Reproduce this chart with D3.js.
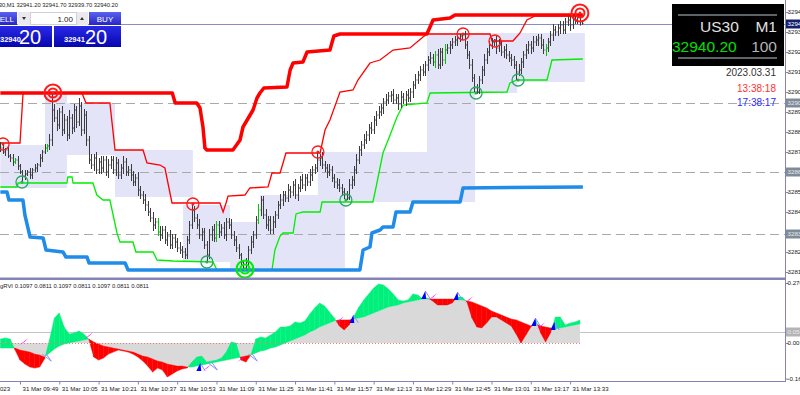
<!DOCTYPE html>
<html>
<head>
<meta charset="utf-8">
<script src="https://cdn.jsdelivr.net/npm/d3@7"></script>
<style>
html,body{margin:0;padding:0;background:#fff;overflow:hidden}
svg{display:block;font-family:"Liberation Sans",Arial,sans-serif}
</style>
</head>
<body>
<div id="chart"></div>
<script>
var W = 800, H = 395;

// US30 M1, first visible bar at 09:41
var startTime = new Date(2023, 2, 31, 9, 41);
var open0 = 32879;
var closes = [32878,32876,32877,32874, 32873,32871,32872,32869,32866,
  32864,32865,32866,32864.5,32867,32868, 32869.5,32873,32876,32878,32879,
  32882,32897, 32893,32889.5,32896,32887,32892,32884.5,
  32893,32888,32897,32891,32899,32887,32894.5, 32882,32872,
  32869.5,32873,32867,32871,32868,32872,32866,32869.5,32872,32867,32870.5,32864.5,32868,32871,32866,32867,
  32864.5,32861,32863,32857,32854.5,32852, 32849.5,32846,32843,32839.5,32841,32836,32834.5,
  32837,32832,32834,32829.5,32833,32831,32828,32827,32826,
  32824.5,32832,32839.5,32847,32843, 32839.5,32834.5,32836,32829.5,32824.5,
  32834.5,32837,32833,32839.5,32836,32838,32834.5,32841,32839.5,32834.5,32832,
  32828,32824.5,32821,32818, 32821,32827,32831,32834.5,32842,32847,32852,
  32844.5,32839.5,32842,32837,32841,32844.5,
  32849.5,32852,32854.5,32853,32857,32856,32859.5,32854.5,32858,32862,
  32859.5,32863,32861,32864.5,32867,32868, 32872,32873,
  32869.5,32868,32866,32867,32863,32861,32859.5,32858, 32856,32854.5,32853,
  32859.5,32862,32867,32872,32877,32879.5,32882,32884.5,32888,
  32887,32892,32894.5,32896,32898,32901,32902,32904,
  32904.5,32902,32903,32900,32903.5,32902,32904.5,32903,
  32906,32909.5,32912,32914.5,32917,32916,32919.5,32922,
  32923,32921,32924.5,32919.5,32926,32922,32927,32928,
  32929.5,32931,32932,32933,32934,32934.5, 32929.5,32924.5,32919.5,32913,32908,32906,
  32912,32917,32922,32926,32929.5,32931,32932,
  32928,32929.5,32926,32927,32924.5,32923,32922,32919.5,32916,
  32917,32921,32924.5,32927,32929.5,32928,32931,32932,32933,
  32929.5,32927,32928,32931,32934.5,32937,32936,
  32938,32939.5,32937,32941,32942,32939.5,32943,32942,32944,32941.2,32940.2];
// wick above / below the bar body, points
var wickUp = [2,2,1,2,1,2,1,2,1,1, 2,1,2,1,2,1,2,1,2,1, 3,8.5,3,4,2,3,3,2,4,2,
  3,2,4,2,3,2,2,3,2,3, 2,3,2,2,3,2,2,3,2,2, 3,2,2,3,2,2,3,2,2,3,
  2,2,3,2,2,3,2,2,2,3, 2,2,2,3,2,2,2,2,3,2, 2,3,2,2,2,3,2,3,2,2,
  2,3,2,2,3,2,2,2,1,1, 2,2,3,2,2,3,2,2,3,2, 2,3,2,2,3,2,2,3,2,2,
  3,2,2,3,2,2,3,2,2,4, 2,3,2,2,3,2,2,2,3,2, 2,2,3,2,2,3,2,2,3,2,
  2,3,2,2,3,2,2,3,2,2, 3,2,2,3,2,2,3,2,2,3, 2,2,3,2,2,3,2,2,3,2,
  2,3,2,2,2,2,1,1,0.5,2, 2,2,3,2,2,2,2,3,2,2, 2,0.5,2,3,2,2,3,2,2,2,
  2,3,2,2,3,2,2,3,2,2, 2,3,2,2,2,3,2,2,2,2, 2,2,2,2,1,1,1.5,0.5];
var wickDown = [2,1,2,1,2,2,1,2,1,3, 2,1,2,2,1,2,1,2,1,2, 2,3,2,3,2,3,2,3,2,3,
  2,3,2,3,2,3,2,2,3,2, 2,3,2,2,3,2,2,3,2,2, 3,2,2,3,2,2,3,2,2,3,
  2,2,3,2,2,3,2,2,3,2, 2,3,2,2,3,2,2,2,2,2, 2,2,3,2,3.5,2,3,2,2,3,
  2,2,3,2,2,3,2,2,2,1, 1,2,2,3,2,2,3,2,2,3, 2,2,3,2,2,3,2,2,3,2,
  2,3,2,2,3,2,2,3,2,2, 3,2,2,3,2,2,3,2,2,2, 2,1,1,2,3,2,2,3,2,2,
  3,2,2,3,2,2,3,2,2,3, 2,2,3,2,2,3,2,2,3,2, 2,3,2,2,3,2,2,3,2,2,
  3,2,2,3,2,2,3,2,2,2, 2,2,2,2,1,1,2,3,2,2, 2,2,3,2,2,3,2,2,3,2,
  4,2,2,3,2,2,3,2,2,3, 2,2,3,2,2,3,2,2,3,2, 2,2,3,2,2,2,2,0.5];
var greenBars = [6,19,64,88,105,177,181,222];

// channel lines: [bar, price]
var slowHigh = [[0,32905.5],[70,32905.5],[71.2,32900.5],[80,32900.5],[81.3,32898],[82.5,32888.5],[83.3,32878],
  [84.1,32877],[94.7,32877],[97.6,32882],[98.8,32888.5],[102.9,32897],[104.5,32903],[105.7,32905.5],[107.3,32908],
  [116.7,32908.5],[118,32917],[119.2,32920.5],[123.2,32921],[124.9,32926],[134.2,32927],[135.8,32934],[138.3,32935],
  [173.7,32935],[176.2,32942],[183.1,32943],[185.1,32944.5],[237.2,32944.5]];
var fastHigh = [[0,32880.5],[8,32880.5],[9.2,32904.5],[9.6,32905.5],[33.2,32905.5],[34.9,32900.5],[44.6,32900.5],
  [46.7,32877],[58.1,32877],[59.7,32870.5],[65,32869.5],[67,32868],[69.9,32850.5],[89.4,32850.5],[90.7,32846],
  [91.9,32850.5],[92.7,32854],[99.6,32854.5],[101.6,32858],[109,32858.5],[110.6,32865.5],[113.9,32865.5],
  [116.3,32875.5],[130.2,32875.5],[132.2,32887],[134.2,32892],[138.3,32906],[143.6,32907],[145.6,32912],
  [150.5,32920.5],[154.6,32922],[159.9,32927],[166.8,32928],[172.1,32933.5],[173.7,32935],[199.4,32935],
  [200.2,32931.5],[208.7,32931.5],[211.6,32935.5],[214.4,32942],[217.7,32944],[237.2,32944]];
var fastLow = [[0,32858.5],[6.8,32858.5],[7.2,32860.5],[27.1,32860.5],[27.5,32863.5],[29.2,32863.5],[29.6,32860.5],
  [37.7,32860.5],[39.3,32854.5],[41.8,32852],[44.6,32852],[47.5,32835.5],[48.7,32831],[54,32831],[55.2,32826],
  [62.2,32826],[63.8,32822],[70.3,32821.5],[86.6,32821],[88.2,32817],[110.6,32817],[111.8,32827],[113.9,32834],
  [115.1,32835.5],[119.2,32835.5],[120.4,32845],[123.2,32846],[130.2,32846],[131,32851],[151.7,32851],
  [153,32858.5],[155.8,32875.5],[158.7,32884.5],[161.5,32893.5],[164,32899.5],[173.7,32900.5],[175,32905.5],
  [206.3,32906],[207.5,32910.5],[210.4,32912],[222.6,32912],[224.6,32922],[237.2,32922.5]];
var slowLow = [[0,32856],[2.7,32856],[3.5,32852],[9.2,32852],[10,32844.5],[12.1,32833.5],[17.4,32833],[18.6,32827],
  [25.5,32826],[26.7,32823.5],[35.3,32823.5],[36.1,32820.5],[50.8,32820.5],[52,32817],[146.4,32817],[147.7,32827],
  [150.5,32828.5],[151.3,32835.5],[154.6,32837],[155.8,32838.5],[159.9,32838.5],[161.1,32846],[166.8,32846],
  [168,32851],[187.2,32851],[188.4,32858],[237.2,32858.5]];

// shaded zones: [fromBar, toBar, top, bottom]
var zones = [[0,18.2,32879.5,32858],[18.2,27.1,32905.5,32858],[27.1,46.7,32900.5,32874.5],
  [46.7,78.4,32877,32853.5],[74.4,93.5,32849.5,32821],[93.5,105.7,32841,32817],[105.7,140.3,32854.5,32818],
  [129.3,173.7,32876,32851],[173.7,193.3,32927,32851],[173.7,210.4,32935.5,32905.5],[210.4,238,32935.5,32911]];

var levels = [32900.5, 32866, 32835];
var lastPrice = 32940.2;

// swing marks: [bar, price]
var bigHighMarks = [[21.4,32905.5],[236,32945.5]];
var highMarks = [[1.1,32880],[78.4,32850],[129.3,32876],[188.4,32935],[201.4,32931.5]];
var lowMarks = [[8.8,32861],[84.1,32821],[140.7,32852],[193.7,32905.5],[210.8,32912]];
var bigLowMarks = [[99.6,32817.5]];

// gRVI, one value every 2 bars
var rviMain = [0.018,0.023,0.018,-0.032,-0.077,-0.095,-0.108,-0.113,-0.108,-0.072,
  0.014,0.113,0.135,0.072,0.041,0.045,0.054,0.041,0.018,-0.063,
  -0.077,-0.068,-0.050,-0.041,-0.032,-0.036,-0.041,-0.050,-0.063,-0.081,
  -0.104,-0.131,-0.113,-0.122,-0.153,-0.140,-0.126,-0.117,-0.113,-0.086,
  -0.063,-0.059,-0.086,-0.081,-0.077,-0.068,-0.041,0.005,0.000,-0.077,
  -0.086,-0.054,0.018,0.027,0.023,0.036,0.050,0.072,0.072,0.077,
  0.095,0.090,0.099,0.131,0.158,0.180,0.167,0.140,0.113,0.077,
  0.059,0.081,0.122,0.162,0.194,0.221,0.248,0.266,0.261,0.243,
  0.221,0.194,0.189,0.194,0.221,0.216,0.198,0.203,0.189,0.171,
  0.171,0.171,0.180,0.207,0.207,0.185,0.113,0.072,0.068,0.090,
  0.117,0.117,0.104,0.090,0.077,0.041,0.000,0.036,0.072,0.104,
  0.045,0.005,0.045,0.117,0.117,0.081,0.090,0.095,0.104];
var rviSignal = [-0.023,-0.023,-0.023,-0.023,-0.032,-0.036,-0.041,-0.050,-0.054,-0.063,
  -0.045,-0.027,-0.014,-0.005,0.000,0.005,0.009,0.014,0.018,0.005,
  -0.005,-0.014,-0.018,-0.023,-0.027,-0.032,-0.036,-0.041,-0.050,-0.059,
  -0.063,-0.072,-0.081,-0.086,-0.095,-0.099,-0.104,-0.104,-0.108,-0.108,
  -0.104,-0.099,-0.095,-0.090,-0.086,-0.081,-0.077,-0.072,-0.068,-0.063,
  -0.059,-0.054,-0.045,-0.036,-0.032,-0.023,-0.018,-0.009,0.000,0.009,
  0.018,0.027,0.036,0.050,0.059,0.072,0.081,0.090,0.099,0.104,
  0.104,0.104,0.108,0.113,0.117,0.126,0.135,0.144,0.153,0.162,
  0.167,0.171,0.180,0.185,0.189,0.194,0.198,0.198,0.198,0.198,
  0.198,0.198,0.198,0.194,0.194,0.189,0.185,0.176,0.167,0.158,
  0.144,0.135,0.126,0.117,0.108,0.104,0.095,0.086,0.077,0.086,
  0.077,0.072,0.068,0.063,0.068,0.072,0.077,0.081,0.086];
// cross arrows: [bar, value, kind]
var rviMarks = [[9.4,0.009,"m"],[19.1,-0.068,"o"],[35.8,0.036,"m"],[80.6,-0.113,"b"],[83.9,-0.108,"m"],
  [86.7,-0.108,"o"],[98.1,-0.068,"m"],[103,-0.068,"o"],[138,0.108,"m"],[142.9,0.104,"b"],[172.2,0.212,"b"],
  [175.9,0.212,"m"],[185.3,0.207,"b"],[190.6,0.198,"m"],[217,0.090,"b"],[219.9,0.081,"m"],[224.8,0.072,"b"]];
var rviLevel = 0.05;

var priceTicks = [32946,32936,32926,32916,32906,32896,32886,32876,32866,32856,32846,32836,32826,32816];
var rviTicks = [0.27, 0, -0.16];
var rviTickLabels = ["0.270", "0.00", "-0.16"];
var timeTicks = ["09:30","09:49","10:05","10:21","10:37","10:53","11:09","11:25","11:41","11:57",
  "12:13","12:29","12:45","13:01","13:17","13:33"];

function barTime(i) { return new Date(+startTime + i * 60000); }
function hm(s) { var p = s.split(":"); return new Date(2023, 2, 31, +p[0], +p[1]); }

var svg = d3.select("#chart").append("svg").attr("width", W).attr("height", H);
var defs = svg.append("defs");
defs.append("clipPath").attr("id", "clipMain").append("rect")
  .attr("x", 0).attr("y", 0).attr("width", 785).attr("height", 278);
defs.append("clipPath").attr("id", "clipInd").append("rect")
  .attr("x", 0).attr("y", 281).attr("width", 785).attr("height", 101);

var x = d3.scaleTime().domain([barTime(0), barTime(237)]).range([0.35, 582.4]);
var y = d3.scaleLinear().domain([32952, 32813]).range([0, 278]);
var yi = d3.scaleLinear().domain([0.279, -0.171]).range([281, 381]);

var main = svg.append("g").attr("clip-path", "url(#clipMain)");

// zones
main.selectAll("rect.zone").data(zones).enter().append("rect")
  .attr("x", function(d) { return x(barTime(d[0])); })
  .attr("width", function(d) { return x(barTime(d[1])) - x(barTime(d[0])); })
  .attr("y", function(d) { return y(d[2]); })
  .attr("height", function(d) { return y(d[3]) - y(d[2]); })
  .attr("fill", "#e3e4f7");

// levels
main.selectAll("line.lvl").data(levels).enter().append("line")
  .attr("x1", 0).attr("x2", 785)
  .attr("y1", function(d) { return Math.round(y(d)) + 0.5; })
  .attr("y2", function(d) { return Math.round(y(d)) + 0.5; })
  .attr("stroke", "#a9a9a9").attr("stroke-dasharray", "9,5");

main.append("line").attr("x1", 0).attr("x2", 785)
  .attr("y1", Math.round(y(lastPrice)) + 0.5).attr("y2", Math.round(y(lastPrice)) + 0.5)
  .attr("stroke", "#8c8cc4");

var chan = d3.line()
  .x(function(d) { return x(barTime(d[0])); })
  .y(function(d) { return y(d[1]); });

main.append("path").attr("d", chan(fastHigh)).attr("fill", "none").attr("stroke", "#ff0000").attr("stroke-width", 1.3);
main.append("path").attr("d", chan(fastLow)).attr("fill", "none").attr("stroke", "#00ee00").attr("stroke-width", 1.3);

// bars
var bars = main.append("g");
closes.forEach(function(c, i) {
  var o = i == 0 ? open0 : closes[i - 1];
  var hi = Math.max(o, c) + wickUp[i], lo = Math.min(o, c) - wickDown[i];
  var bx = Math.round(x(barTime(i))) + 0.5;
  var col = greenBars.indexOf(i) >= 0 ? "#00c800" : "#3c3c3c";
  bars.append("line").attr("x1", bx).attr("x2", bx).attr("y1", y(hi)).attr("y2", y(lo))
    .attr("stroke", col);
  bars.append("line").attr("x1", bx - 1).attr("x2", bx).attr("y1", y(o)).attr("y2", y(o))
    .attr("stroke", col);
  bars.append("line").attr("x1", bx).attr("x2", bx + 1).attr("y1", y(c)).attr("y2", y(c))
    .attr("stroke", col);
});

main.append("path").attr("d", chan(slowHigh)).attr("fill", "none").attr("stroke", "#ff0000")
  .attr("stroke-width", 3.5).attr("stroke-linejoin", "round");
main.append("path").attr("d", chan(slowLow)).attr("fill", "none").attr("stroke", "#1e8ce8")
  .attr("stroke-width", 3.5).attr("stroke-linejoin", "round");

// swing marks
function rings(data, col, radii, sw) {
  data.forEach(function(d) {
    var cx = x(barTime(d[0])), cy = y(d[1]);
    radii.forEach(function(r) {
      main.append("circle").attr("cx", cx).attr("cy", cy).attr("r", r)
        .attr("fill", "none").attr("stroke", col).attr("stroke-width", sw);
    });
    main.append("circle").attr("cx", cx).attr("cy", cy).attr("r", 1.5).attr("fill", col);
  });
}
rings(highMarks, "#ff1a1a", [6], 1.3);
rings(lowMarks, "#2fa56a", [6], 1.3);
rings(bigHighMarks, "#ff1a1a", [8.5, 4.5], 2);
rings(bigLowMarks, "#00ee00", [8.5, 4.5], 2.2);

// ---- gRVI panel
var ind = svg.append("g").attr("clip-path", "url(#clipInd)");
var ix = function(k) { return x(barTime(k * 2)); };

ind.append("line").attr("x1", 0).attr("x2", 785)
  .attr("y1", Math.round(yi(rviLevel)) + 0.5).attr("y2", Math.round(yi(rviLevel)) + 0.5)
  .attr("stroke", "#c4c4c4");

ind.append("path")
  .attr("d", d3.area().x(function(d, k) { return ix(k); }).y0(yi(0)).y1(function(d) { return yi(d); })(rviSignal))
  .attr("fill", "#d9d9d9");

for (var k = 0; k < rviMain.length - 1; k++) {
  var d0 = rviMain[k] - rviSignal[k], d1 = rviMain[k + 1] - rviSignal[k + 1];
  var pieces = [];
  if (d0 * d1 < 0) {
    var t = d0 / (d0 - d1);
    var mm = rviMain[k] + t * (rviMain[k + 1] - rviMain[k]);
    pieces.push([[k, rviMain[k], rviSignal[k]], [k + t, mm, mm], d0]);
    pieces.push([[k + t, mm, mm], [k + 1, rviMain[k + 1], rviSignal[k + 1]], d1]);
  } else {
    pieces.push([[k, rviMain[k], rviSignal[k]], [k + 1, rviMain[k + 1], rviSignal[k + 1]], d0 + d1]);
  }
  pieces.forEach(function(p) {
    var a = p[0], b = p[1];
    ind.append("path")
      .attr("d", "M" + ix(a[0]) + "," + yi(a[1]) + "L" + ix(b[0]) + "," + yi(b[1]) +
        "L" + ix(b[0]) + "," + yi(b[2]) + "L" + ix(a[0]) + "," + yi(a[2]) + "Z")
      .attr("fill", p[2] >= 0 ? "#00f07c" : "#ff0000")
      .attr("stroke", p[2] >= 0 ? "#00f07c" : "#ff0000").attr("stroke-width", 0.4);
  });
}

ind.append("line").attr("x1", 0).attr("x2", ix(rviMain.length - 1))
  .attr("y1", Math.round(yi(0)) + 0.5).attr("y2", Math.round(yi(0)) + 0.5)
  .attr("stroke", "#f07a7a").attr("stroke-dasharray", "1,2");

rviMarks.forEach(function(m) {
  var g = ind.append("g").attr("transform", "translate(" + x(barTime(m[0])) + "," + yi(m[1]) + ")");
  if (m[2] == "b") {
    g.append("path").attr("d", "M2,-5L7,3").attr("stroke", "#8f8fff").attr("fill", "none");
    g.append("path").attr("d", "M-2,3L2,-5L3,3Z").attr("fill", "#0000ff");
  } else if (m[2] == "m") {
    g.append("path").attr("d", "M-4,4L5,-3L1,1Z").attr("fill", "#ff00ff");
  } else {
    g.append("path").attr("d", "M-5,-4L4,3M-1,-4L4,3").attr("stroke", "#8f8fff").attr("fill", "none");
  }
});

ind.append("text").attr("x", 0).attr("y", 288).attr("font-size", 5.9).attr("fill", "#222")
  .text("gRVI 0.1097 0.0811 0.1097 0.0811 0.1097 0.0811 0.0811");

// ---- frames and axes
var frame = "#8484b6";
var axisFont = "Liberation Sans, Arial, sans-serif";
svg.append("rect").attr("x", 0).attr("y", 277.5).attr("width", 786).attr("height", 2.5).attr("fill", frame);
svg.append("line").attr("x1", 0).attr("x2", 786).attr("y1", 381.5).attr("y2", 381.5).attr("stroke", frame);
svg.append("line").attr("x1", 785.5).attr("x2", 785.5).attr("y1", 0).attr("y2", 382).attr("stroke", frame);

// tick labels hidden under a price tag are dropped, as the terminal does
var tagged = levels.concat([lastPrice]);
var pAxis = svg.append("g").attr("transform", "translate(785.5,0)")
  .call(d3.axisRight(y).tickValues(priceTicks).tickSize(3).tickFormat(d3.format(".1f")));
pAxis.select(".domain").remove();
pAxis.selectAll("line").attr("stroke", frame);
pAxis.selectAll("text").attr("x", 2).attr("font-size", 6.2).attr("fill", "#222")
  .attr("font-family", axisFont)
  .style("display", function(d) {
    return tagged.some(function(l) { return Math.abs(y(l) - y(d)) < 8; }) ? "none" : null;
  });

var iAxis = svg.append("g").attr("transform", "translate(785.5,0)")
  .call(d3.axisRight(yi).tickValues(rviTicks).tickSize(3)
    .tickFormat(function(d, i) { return rviTickLabels[i]; }));
iAxis.select(".domain").remove();
iAxis.selectAll("line").attr("stroke", frame);
iAxis.selectAll("text").attr("x", 2).attr("font-size", 6.2).attr("fill", "#222")
  .attr("font-family", axisFont);

var tAxis = svg.append("g").attr("transform", "translate(0,381.5)")
  .call(d3.axisBottom(x).tickValues(timeTicks.map(hm)).tickSize(3)
    .tickFormat(function(d, i) { return i == 0 ? d3.timeFormat("%d %b %Y")(d) : d3.timeFormat("%d %b %H:%M")(d); }));
tAxis.select(".domain").remove();
tAxis.selectAll("line").attr("stroke", frame);
tAxis.selectAll("text").attr("text-anchor", "start").attr("x", 2).attr("y", 5).attr("dy", "0.71em")
  .attr("font-size", 6.1).attr("fill", "#222").attr("font-family", axisFont);

// axis price tags
function tag(v, scale, bg, fg, label) {
  var ty = Math.round(scale(v));
  svg.append("rect").attr("x", 786).attr("y", ty - 4.5).attr("width", 14).attr("height", 9).attr("fill", bg);
  svg.append("text").attr("x", 787.5).attr("y", ty + 2.3).attr("font-size", 6.2).attr("fill", fg)
    .attr("font-family", axisFont).text(label);
}
levels.forEach(function(l) { tag(l, y, "#7f8c98", "#e6e9ee", d3.format(".1f")(l)); });
tag(lastPrice, y, "#14206e", "#ffffff", d3.format(".2f")(lastPrice));
tag(rviLevel, yi, "#b4b4b4", "#e8e8e8", "0.0500");

// ---- top-left quote line and trade panel
svg.append("text").attr("x", 118).attr("y", 7).attr("text-anchor", "end").attr("font-size", 5.8).attr("fill", "#222")
  .text("US30,M1 32941.20 32941.70 32939.70 32940.20");

var btn = defs.append("linearGradient").attr("id", "btn").attr("x1", 0).attr("x2", 0).attr("y1", 0).attr("y2", 1);
btn.append("stop").attr("offset", "0%").attr("stop-color", "#5a62ee");
btn.append("stop").attr("offset", "100%").attr("stop-color", "#2626c4");
var pg = defs.append("linearGradient").attr("id", "pbox").attr("x1", 0).attr("x2", 0).attr("y1", 0).attr("y2", 1);
pg.append("stop").attr("offset", "0%").attr("stop-color", "#2a2ae6");
pg.append("stop").attr("offset", "100%").attr("stop-color", "#0606b0");

svg.append("rect").attr("x", -2).attr("y", 12).attr("width", 19).attr("height", 13).attr("fill", "url(#btn)");
svg.append("text").attr("x", 14).attr("y", 21.5).attr("text-anchor", "end").attr("font-size", 8).attr("fill", "#fff").text("SELL");
svg.append("rect").attr("x", 18).attr("y", 12).attr("width", 70).attr("height", 13).attr("fill", "#e9e9ee");
svg.append("rect").attr("x", 30.5).attr("y", 12.5).attr("width", 46).attr("height", 12).attr("fill", "#fff").attr("stroke", "#d0d0d8");
svg.append("text").attr("x", 73).attr("y", 21.5).attr("text-anchor", "end").attr("font-size", 8).attr("fill", "#222").text("1.00");
svg.append("path").attr("d", "M22,17L26,17L24,20Z").attr("fill", "#333");
svg.append("path").attr("d", "M80,20L84,20L82,17Z").attr("fill", "#333");
svg.append("rect").attr("x", 89).attr("y", 12).attr("width", 32).attr("height", 13).attr("fill", "url(#btn)");
svg.append("text").attr("x", 105).attr("y", 21.5).attr("text-anchor", "middle").attr("font-size", 8).attr("fill", "#fff").text("BUY");

svg.append("rect").attr("x", -2).attr("y", 26).attr("width", 54).attr("height", 21).attr("fill", "url(#pbox)");
svg.append("rect").attr("x", 54).attr("y", 26).attr("width", 67).attr("height", 21).attr("fill", "url(#pbox)");
svg.append("text").attr("x", 0).attr("y", 42).attr("font-size", 7.5).attr("font-weight", "bold").attr("fill", "#fff").text("32940");
svg.append("text").attr("x", 19).attr("y", 44).attr("font-size", 20).attr("fill", "#fff").text("20");
svg.append("text").attr("x", 64).attr("y", 42).attr("font-size", 7.5).attr("font-weight", "bold").attr("fill", "#fff").text("32941");
svg.append("text").attr("x", 85).attr("y", 44).attr("font-size", 20).attr("fill", "#fff").text("20");

// ---- symbol info box
svg.append("rect").attr("x", 672).attr("y", 4).attr("width", 112).attr("height", 62).attr("fill", "#000");
svg.append("rect").attr("x", 678).attr("y", 14).attr("width", 99).attr("height", 2).attr("fill", "#5c6468");
svg.append("rect").attr("x", 678).attr("y", 57).attr("width", 99).attr("height", 2).attr("fill", "#5c6468");
svg.append("text").attr("x", 700).attr("y", 32).attr("font-size", 15.5).attr("fill", "#e2e2e2").text("US30");
svg.append("text").attr("x", 777).attr("y", 32).attr("text-anchor", "end").attr("font-size", 15.5).attr("fill", "#e2e2e2").text("M1");
svg.append("text").attr("x", 672).attr("y", 52).attr("font-size", 15.5).attr("fill", "#00e000").text("32940.20");
svg.append("text").attr("x", 777).attr("y", 52).attr("text-anchor", "end").attr("font-size", 15.5).attr("fill", "#b4b4b4").text("100");

svg.append("text").attr("x", 776).attr("y", 76).attr("text-anchor", "end").attr("font-size", 10).attr("fill", "#333").text("2023.03.31");
svg.append("text").attr("x", 776).attr("y", 91.5).attr("text-anchor", "end").attr("font-size", 10).attr("fill", "#ff3030").text("13:38:18");
svg.append("text").attr("x", 776).attr("y", 106).attr("text-anchor", "end").attr("font-size", 10).attr("fill", "#2828ff").text("17:38:17");
</script>
</body>
</html>
